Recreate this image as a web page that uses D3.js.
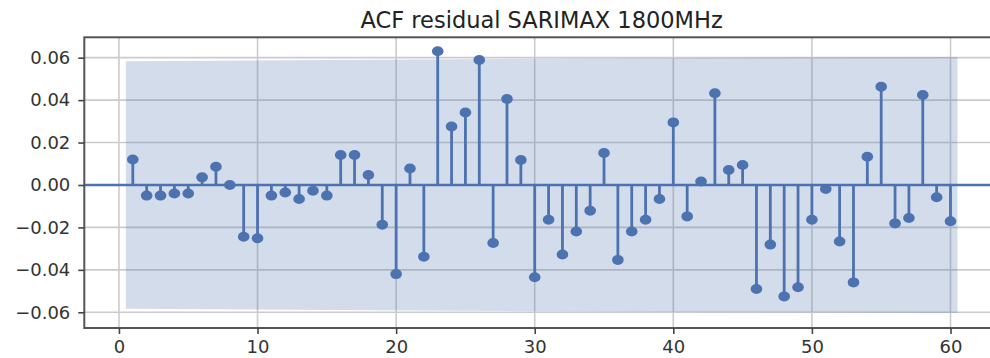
<!DOCTYPE html>
<html>
<head>
  <meta charset="utf-8" />
  <script src="https://d3js.org/d3.v7.min.js"></script>
  <style>
    body { margin: 0; background: white; }
    text { font-family: "DejaVu Sans", sans-serif; }
  </style>
</head>
<body>
  <div id="chart"></div>
  <script>
    const title = "ACF residual SARIMAX 1800MHz";

    // lags 1..60 and their autocorrelations
    const lags = d3.range(1, 61);
    const acf = [
      0.012, -0.005, -0.005, -0.004, -0.004, 0.0036, 0.0086, 0.000, -0.0244, -0.0251,
      -0.005, -0.0035, -0.0066, -0.0027, -0.005, 0.0141, 0.0141, 0.0047, -0.0187, -0.042,
      0.0078, -0.0338, 0.063, 0.0276, 0.0342, 0.0589, -0.0273, 0.0405, 0.0118, -0.0435,
      -0.0164, -0.0328, -0.0219, -0.0121, 0.0151, -0.0353, -0.0219, -0.0164, -0.0066, 0.0295,
      -0.0148, 0.0016, 0.0432, 0.0071, 0.0094, -0.049, -0.0281, -0.0525, -0.0482, -0.0164,
      -0.0019, -0.0266, -0.0459, 0.0133, 0.0463, -0.0181, -0.0156, 0.0424, -0.0058, -0.0171
    ];

    // confidence band half-width, read at a few lags
    const bandLags = [0.5, 15, 30, 45, 60.5];
    const bandHalf = [0.0583, 0.0589, 0.0595, 0.0600, 0.0603];

    const xTicks = [0, 10, 20, 30, 40, 50, 60];
    const yTicks = [-0.06, -0.04, -0.02, 0, 0.02, 0.04, 0.06];

    const width = 990, height = 358;
    const plotL = 84.3, plotR = 999, plotT = 37.3, plotB = 328;
    const blue = "#4c72b0";

    const svg = d3.select("#chart").append("svg")
      .attr("width", width).attr("height", height);

    const x = d3.scaleLinear().domain([-2.5, 63.5]).range([plotL, plotR]);
    const y = d3.scaleLinear().domain([-0.0674, 0.0696]).range([plotB, plotT]);

    // grid
    svg.append("g").selectAll("line").data(xTicks).join("line")
      .attr("x1", d => x(d)).attr("x2", d => x(d))
      .attr("y1", plotT).attr("y2", plotB)
      .attr("stroke", "#cbcbcb").attr("stroke-width", 1.6);
    svg.append("g").selectAll("line").data(yTicks).join("line")
      .attr("x1", plotL).attr("x2", plotR)
      .attr("y1", d => y(d)).attr("y2", d => y(d))
      .attr("stroke", "#cbcbcb").attr("stroke-width", 1.6);

    // confidence band
    const band = bandLags.map((l, i) => ({ l: l, h: bandHalf[i] }));
    svg.append("path")
      .datum(band)
      .attr("d", d3.area().x(d => x(d.l)).y0(d => y(-d.h)).y1(d => y(d.h)))
      .attr("fill", blue).attr("fill-opacity", 0.25);

    // zero line
    svg.append("line")
      .attr("x1", plotL).attr("x2", plotR)
      .attr("y1", y(0)).attr("y2", y(0))
      .attr("stroke", blue).attr("stroke-width", 2.6);

    // stems
    const data = lags.map((l, i) => ({ l: l, v: acf[i] }));
    svg.append("g").selectAll("line").data(data).join("line")
      .attr("x1", d => x(d.l)).attr("x2", d => x(d.l))
      .attr("y1", y(0)).attr("y2", d => y(d.v))
      .attr("stroke", blue).attr("stroke-width", 2.8);
    svg.append("g").selectAll("ellipse").data(data).join("ellipse")
      .attr("cx", d => x(d.l)).attr("cy", d => y(d.v))
      .attr("rx", 5.8).attr("ry", 5)
      .attr("fill", blue);

    // frame
    svg.append("rect")
      .attr("x", plotL).attr("y", plotT)
      .attr("width", plotR - plotL).attr("height", plotB - plotT)
      .attr("fill", "none").attr("stroke", "#555").attr("stroke-width", 2);

    // axes
    const fmt = d3.format(".2f");
    const yAxis = svg.append("g")
      .attr("transform", `translate(${plotL},0)`)
      .call(d3.axisLeft(y).tickValues(yTicks).tickFormat(fmt).tickSize(6).tickPadding(8));
    const xAxis = svg.append("g")
      .attr("transform", `translate(0,${plotB})`)
      .call(d3.axisBottom(x).tickValues(xTicks).tickSize(6).tickPadding(6));
    [xAxis, yAxis].forEach(a => {
      a.select(".domain").remove();
      a.selectAll(".tick line").attr("stroke", "#444").attr("stroke-width", 1.6);
      a.selectAll(".tick text")
        .attr("fill", "#333")
        .style("font-family", "DejaVu Sans")
        .style("font-size", "18px");
    });

    svg.append("text")
      .attr("x", (plotL + plotR) / 2)
      .attr("y", 28)
      .attr("text-anchor", "middle")
      .attr("fill", "#222")
      .style("font-size", "22.5px")
      .text(title);
  </script>
</body>
</html>
